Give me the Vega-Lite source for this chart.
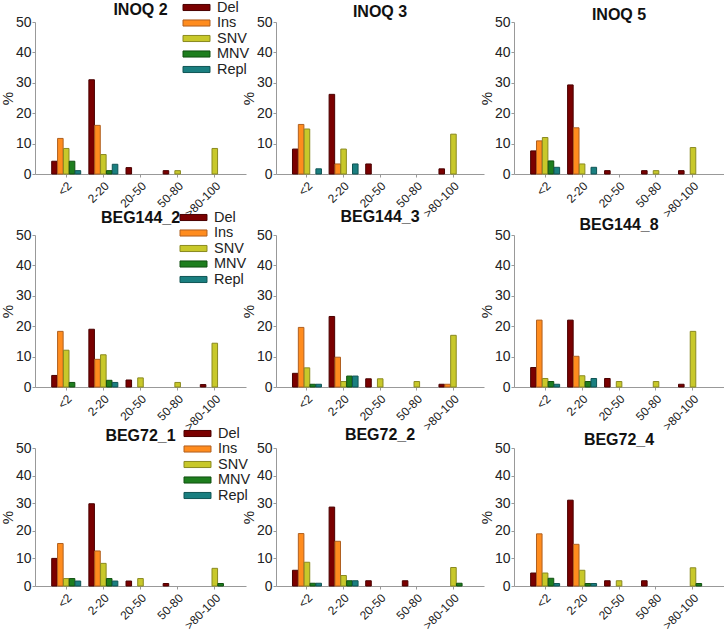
{
  "$schema": "https://vega.github.io/schema/vega-lite/v6.json",
  "padding": {"left": 0, "top": 0, "right": 2, "bottom": 0},
  "background": "white",
  "config": {
    "font": "Liberation Sans",
    "view": {"stroke": null},
    "title": {"fontSize": 16, "fontWeight": "bold", "color": "#111", "offset": 5, "anchor": "middle", "frame": "group"},
    "axis": {"domainColor": "#999", "tickColor": "#999", "labelColor": "#222", "grid": false, "titleFontWeight": "normal", "titleColor": "#222"},
    "legend": {"labelFontSize": 14.5, "labelColor": "#222", "symbolType": "M-2,-0.45H2V0.45H-2Z", "symbolSize": 182, "symbolStrokeWidth": 1, "rowPadding": 0.5, "labelOffset": 13, "orient": "none", "title": null, "padding": 0}
  },
  "bounds": "flush",
  "spacing": {"column": 30, "row": 61},
  "columns": 3,
  "resolve": {"legend": {"color": "independent", "stroke": "independent"}},
  "data": {"values": [
    {"panel": "INOQ 2", "bin": "<2", "type": "Del", "value": 4.2},
    {"panel": "INOQ 2", "bin": "<2", "type": "Ins", "value": 11.7},
    {"panel": "INOQ 2", "bin": "<2", "type": "SNV", "value": 8.4},
    {"panel": "INOQ 2", "bin": "<2", "type": "MNV", "value": 4.2},
    {"panel": "INOQ 2", "bin": "<2", "type": "Repl", "value": 1.1},
    {"panel": "INOQ 2", "bin": "2-20", "type": "Del", "value": 31.0},
    {"panel": "INOQ 2", "bin": "2-20", "type": "Ins", "value": 16.0},
    {"panel": "INOQ 2", "bin": "2-20", "type": "SNV", "value": 6.4},
    {"panel": "INOQ 2", "bin": "2-20", "type": "MNV", "value": 1.1},
    {"panel": "INOQ 2", "bin": "2-20", "type": "Repl", "value": 3.2},
    {"panel": "INOQ 2", "bin": "20-50", "type": "Del", "value": 2.1},
    {"panel": "INOQ 2", "bin": "50-80", "type": "Del", "value": 1.1},
    {"panel": "INOQ 2", "bin": "50-80", "type": "SNV", "value": 1.1},
    {"panel": "INOQ 2", "bin": ">80-100", "type": "SNV", "value": 8.4},

    {"panel": "INOQ 3", "bin": "<2", "type": "Del", "value": 8.2},
    {"panel": "INOQ 3", "bin": "<2", "type": "Ins", "value": 16.3},
    {"panel": "INOQ 3", "bin": "<2", "type": "SNV", "value": 14.8},
    {"panel": "INOQ 3", "bin": "<2", "type": "Repl", "value": 1.7},
    {"panel": "INOQ 3", "bin": "2-20", "type": "Del", "value": 26.2},
    {"panel": "INOQ 3", "bin": "2-20", "type": "Ins", "value": 3.3},
    {"panel": "INOQ 3", "bin": "2-20", "type": "SNV", "value": 8.2},
    {"panel": "INOQ 3", "bin": "2-20", "type": "Repl", "value": 3.3},
    {"panel": "INOQ 3", "bin": "20-50", "type": "Del", "value": 3.3},
    {"panel": "INOQ 3", "bin": ">80-100", "type": "Del", "value": 1.7},
    {"panel": "INOQ 3", "bin": ">80-100", "type": "SNV", "value": 13.1},

    {"panel": "INOQ 5", "bin": "<2", "type": "Del", "value": 7.6},
    {"panel": "INOQ 5", "bin": "<2", "type": "Ins", "value": 10.9},
    {"panel": "INOQ 5", "bin": "<2", "type": "SNV", "value": 12.0},
    {"panel": "INOQ 5", "bin": "<2", "type": "MNV", "value": 4.3},
    {"panel": "INOQ 5", "bin": "<2", "type": "Repl", "value": 2.2},
    {"panel": "INOQ 5", "bin": "2-20", "type": "Del", "value": 29.3},
    {"panel": "INOQ 5", "bin": "2-20", "type": "Ins", "value": 15.2},
    {"panel": "INOQ 5", "bin": "2-20", "type": "SNV", "value": 3.3},
    {"panel": "INOQ 5", "bin": "2-20", "type": "Repl", "value": 2.2},
    {"panel": "INOQ 5", "bin": "20-50", "type": "Del", "value": 1.1},
    {"panel": "INOQ 5", "bin": "50-80", "type": "Del", "value": 1.1},
    {"panel": "INOQ 5", "bin": "50-80", "type": "SNV", "value": 1.1},
    {"panel": "INOQ 5", "bin": ">80-100", "type": "Del", "value": 1.1},
    {"panel": "INOQ 5", "bin": ">80-100", "type": "SNV", "value": 8.7},

    {"panel": "BEG144_2", "bin": "<2", "type": "Del", "value": 3.8},
    {"panel": "BEG144_2", "bin": "<2", "type": "Ins", "value": 18.3},
    {"panel": "BEG144_2", "bin": "<2", "type": "SNV", "value": 12.1},
    {"panel": "BEG144_2", "bin": "<2", "type": "MNV", "value": 1.5},
    {"panel": "BEG144_2", "bin": "2-20", "type": "Del", "value": 19.0},
    {"panel": "BEG144_2", "bin": "2-20", "type": "Ins", "value": 9.1},
    {"panel": "BEG144_2", "bin": "2-20", "type": "SNV", "value": 10.6},
    {"panel": "BEG144_2", "bin": "2-20", "type": "MNV", "value": 2.2},
    {"panel": "BEG144_2", "bin": "2-20", "type": "Repl", "value": 1.5},
    {"panel": "BEG144_2", "bin": "20-50", "type": "Del", "value": 2.3},
    {"panel": "BEG144_2", "bin": "20-50", "type": "SNV", "value": 3.0},
    {"panel": "BEG144_2", "bin": "50-80", "type": "SNV", "value": 1.5},
    {"panel": "BEG144_2", "bin": ">80-100", "type": "Del", "value": 0.8},
    {"panel": "BEG144_2", "bin": ">80-100", "type": "SNV", "value": 14.4},

    {"panel": "BEG144_3", "bin": "<2", "type": "Del", "value": 4.5},
    {"panel": "BEG144_3", "bin": "<2", "type": "Ins", "value": 19.6},
    {"panel": "BEG144_3", "bin": "<2", "type": "SNV", "value": 6.3},
    {"panel": "BEG144_3", "bin": "<2", "type": "MNV", "value": 0.9},
    {"panel": "BEG144_3", "bin": "<2", "type": "Repl", "value": 0.9},
    {"panel": "BEG144_3", "bin": "2-20", "type": "Del", "value": 23.2},
    {"panel": "BEG144_3", "bin": "2-20", "type": "Ins", "value": 9.8},
    {"panel": "BEG144_3", "bin": "2-20", "type": "SNV", "value": 1.8},
    {"panel": "BEG144_3", "bin": "2-20", "type": "MNV", "value": 3.6},
    {"panel": "BEG144_3", "bin": "2-20", "type": "Repl", "value": 3.6},
    {"panel": "BEG144_3", "bin": "20-50", "type": "Del", "value": 2.7},
    {"panel": "BEG144_3", "bin": "20-50", "type": "SNV", "value": 2.7},
    {"panel": "BEG144_3", "bin": "50-80", "type": "SNV", "value": 1.8},
    {"panel": "BEG144_3", "bin": ">80-100", "type": "Del", "value": 0.9},
    {"panel": "BEG144_3", "bin": ">80-100", "type": "Ins", "value": 0.9},
    {"panel": "BEG144_3", "bin": ">80-100", "type": "SNV", "value": 17.0},

    {"panel": "BEG144_8", "bin": "<2", "type": "Del", "value": 6.4},
    {"panel": "BEG144_8", "bin": "<2", "type": "Ins", "value": 22.0},
    {"panel": "BEG144_8", "bin": "<2", "type": "SNV", "value": 2.8},
    {"panel": "BEG144_8", "bin": "<2", "type": "MNV", "value": 1.8},
    {"panel": "BEG144_8", "bin": "<2", "type": "Repl", "value": 0.9},
    {"panel": "BEG144_8", "bin": "2-20", "type": "Del", "value": 22.0},
    {"panel": "BEG144_8", "bin": "2-20", "type": "Ins", "value": 10.1},
    {"panel": "BEG144_8", "bin": "2-20", "type": "SNV", "value": 3.7},
    {"panel": "BEG144_8", "bin": "2-20", "type": "MNV", "value": 1.8},
    {"panel": "BEG144_8", "bin": "2-20", "type": "Repl", "value": 2.8},
    {"panel": "BEG144_8", "bin": "20-50", "type": "Del", "value": 2.8},
    {"panel": "BEG144_8", "bin": "20-50", "type": "SNV", "value": 1.8},
    {"panel": "BEG144_8", "bin": "50-80", "type": "SNV", "value": 1.8},
    {"panel": "BEG144_8", "bin": ">80-100", "type": "Del", "value": 0.9},
    {"panel": "BEG144_8", "bin": ">80-100", "type": "SNV", "value": 18.3},

    {"panel": "BEG72_1", "bin": "<2", "type": "Del", "value": 10.0},
    {"panel": "BEG72_1", "bin": "<2", "type": "Ins", "value": 15.4},
    {"panel": "BEG72_1", "bin": "<2", "type": "SNV", "value": 2.7},
    {"panel": "BEG72_1", "bin": "<2", "type": "MNV", "value": 2.7},
    {"panel": "BEG72_1", "bin": "<2", "type": "Repl", "value": 1.8},
    {"panel": "BEG72_1", "bin": "2-20", "type": "Del", "value": 29.8},
    {"panel": "BEG72_1", "bin": "2-20", "type": "Ins", "value": 12.7},
    {"panel": "BEG72_1", "bin": "2-20", "type": "SNV", "value": 8.2},
    {"panel": "BEG72_1", "bin": "2-20", "type": "MNV", "value": 2.7},
    {"panel": "BEG72_1", "bin": "2-20", "type": "Repl", "value": 1.8},
    {"panel": "BEG72_1", "bin": "20-50", "type": "Del", "value": 1.8},
    {"panel": "BEG72_1", "bin": "20-50", "type": "SNV", "value": 2.7},
    {"panel": "BEG72_1", "bin": "50-80", "type": "Del", "value": 0.9},
    {"panel": "BEG72_1", "bin": ">80-100", "type": "SNV", "value": 6.4},
    {"panel": "BEG72_1", "bin": ">80-100", "type": "MNV", "value": 0.9},

    {"panel": "BEG72_2", "bin": "<2", "type": "Del", "value": 5.7},
    {"panel": "BEG72_2", "bin": "<2", "type": "Ins", "value": 19.0},
    {"panel": "BEG72_2", "bin": "<2", "type": "SNV", "value": 8.6},
    {"panel": "BEG72_2", "bin": "<2", "type": "MNV", "value": 1.0},
    {"panel": "BEG72_2", "bin": "<2", "type": "Repl", "value": 1.0},
    {"panel": "BEG72_2", "bin": "2-20", "type": "Del", "value": 28.6},
    {"panel": "BEG72_2", "bin": "2-20", "type": "Ins", "value": 16.2},
    {"panel": "BEG72_2", "bin": "2-20", "type": "SNV", "value": 3.8},
    {"panel": "BEG72_2", "bin": "2-20", "type": "MNV", "value": 1.9},
    {"panel": "BEG72_2", "bin": "2-20", "type": "Repl", "value": 1.9},
    {"panel": "BEG72_2", "bin": "20-50", "type": "Del", "value": 1.9},
    {"panel": "BEG72_2", "bin": "50-80", "type": "Del", "value": 1.9},
    {"panel": "BEG72_2", "bin": ">80-100", "type": "SNV", "value": 6.7},
    {"panel": "BEG72_2", "bin": ">80-100", "type": "MNV", "value": 1.0},

    {"panel": "BEG72_4", "bin": "<2", "type": "Del", "value": 4.7},
    {"panel": "BEG72_4", "bin": "<2", "type": "Ins", "value": 18.9},
    {"panel": "BEG72_4", "bin": "<2", "type": "SNV", "value": 4.7},
    {"panel": "BEG72_4", "bin": "<2", "type": "MNV", "value": 2.8},
    {"panel": "BEG72_4", "bin": "<2", "type": "Repl", "value": 0.9},
    {"panel": "BEG72_4", "bin": "2-20", "type": "Del", "value": 31.1},
    {"panel": "BEG72_4", "bin": "2-20", "type": "Ins", "value": 15.1},
    {"panel": "BEG72_4", "bin": "2-20", "type": "SNV", "value": 5.7},
    {"panel": "BEG72_4", "bin": "2-20", "type": "MNV", "value": 0.9},
    {"panel": "BEG72_4", "bin": "2-20", "type": "Repl", "value": 0.9},
    {"panel": "BEG72_4", "bin": "20-50", "type": "Del", "value": 1.9},
    {"panel": "BEG72_4", "bin": "20-50", "type": "SNV", "value": 1.9},
    {"panel": "BEG72_4", "bin": "50-80", "type": "Del", "value": 1.9},
    {"panel": "BEG72_4", "bin": ">80-100", "type": "SNV", "value": 6.6},
    {"panel": "BEG72_4", "bin": ">80-100", "type": "MNV", "value": 0.9}
  ]},
  "concat": [
    {"title": {"text": "INOQ 2", "offset": -18}, "width": 211, "height": 152, "transform": [{"filter": "datum.panel == 'INOQ 2'"}], "mark": {"type": "bar", "strokeWidth": 1},
     "encoding": {
       "x": {"field": "bin", "type": "nominal", "sort": ["<2", "2-20", "20-50", "50-80", ">80-100"], "scale": {"domain": ["<2", "2-20", "20-50", "50-80", ">80-100"], "paddingInner": 0.22, "paddingOuter": 0.45}, "axis": {"title": null, "labelAngle": -45, "labelFontSize": 12, "tickSize": 3, "labelPadding": 3}},
       "xOffset": {"field": "type", "type": "nominal", "scale": {"domain": ["Del", "Ins", "SNV", "MNV", "Repl"], "paddingInner": 0.05}},
       "y": {"field": "value", "type": "quantitative", "scale": {"domain": [0, 50]}, "axis": {"title": "%", "titleFontSize": 15, "titlePadding": 0, "values": [0, 10, 20, 30, 40, 50], "labelFontSize": 14, "tickSize": 3, "labelPadding": 1}},
       "color": {"field": "type", "type": "nominal", "scale": {"domain": ["Del", "Ins", "SNV", "MNV", "Repl"], "range": ["#7a0000", "#ff8c1e", "#c8c82a", "#1e7e1e", "#1a7f80"]}, "legend": {"legendX": 154, "legendY": -22}},
       "stroke": {"field": "type", "type": "nominal", "scale": {"domain": ["Del", "Ins", "SNV", "MNV", "Repl"], "range": ["#4a0000", "#b06020", "#8a8a20", "#105010", "#105555"]}, "legend": {"legendX": 154, "legendY": -22}}
     }},
    {"title": {"text": "INOQ 3", "offset": -5}, "width": 208, "height": 152, "transform": [{"filter": "datum.panel == 'INOQ 3'"}], "mark": {"type": "bar", "strokeWidth": 1},
     "encoding": {
       "x": {"field": "bin", "type": "nominal", "sort": ["<2", "2-20", "20-50", "50-80", ">80-100"], "scale": {"domain": ["<2", "2-20", "20-50", "50-80", ">80-100"], "paddingInner": 0.22, "paddingOuter": 0.45}, "axis": {"title": null, "labelAngle": -45, "labelFontSize": 12, "tickSize": 3, "labelPadding": 3}},
       "xOffset": {"field": "type", "type": "nominal", "scale": {"domain": ["Del", "Ins", "SNV", "MNV", "Repl"], "paddingInner": 0.05}},
       "y": {"field": "value", "type": "quantitative", "scale": {"domain": [0, 50]}, "axis": {"title": "%", "titleFontSize": 15, "titlePadding": 0, "values": [0, 10, 20, 30, 40, 50], "labelFontSize": 14, "tickSize": 3, "labelPadding": 1}},
       "color": {"field": "type", "type": "nominal", "legend": null},
       "stroke": {"field": "type", "type": "nominal", "legend": null}
     }},
    {"title": {"text": "INOQ 5", "offset": -8}, "width": 210, "height": 152, "transform": [{"filter": "datum.panel == 'INOQ 5'"}], "mark": {"type": "bar", "strokeWidth": 1},
     "encoding": {
       "x": {"field": "bin", "type": "nominal", "sort": ["<2", "2-20", "20-50", "50-80", ">80-100"], "scale": {"domain": ["<2", "2-20", "20-50", "50-80", ">80-100"], "paddingInner": 0.22, "paddingOuter": 0.45}, "axis": {"title": null, "labelAngle": -45, "labelFontSize": 12, "tickSize": 3, "labelPadding": 3}},
       "xOffset": {"field": "type", "type": "nominal", "scale": {"domain": ["Del", "Ins", "SNV", "MNV", "Repl"], "paddingInner": 0.05}},
       "y": {"field": "value", "type": "quantitative", "scale": {"domain": [0, 50]}, "axis": {"title": "%", "titleFontSize": 15, "titlePadding": 0, "values": [0, 10, 20, 30, 40, 50], "labelFontSize": 14, "tickSize": 3, "labelPadding": 1}},
       "color": {"field": "type", "type": "nominal", "legend": null},
       "stroke": {"field": "type", "type": "nominal", "legend": null}
     }},
    {"title": {"text": "BEG144_2", "offset": -16}, "width": 211, "height": 152, "transform": [{"filter": "datum.panel == 'BEG144_2'"}], "mark": {"type": "bar", "strokeWidth": 1},
     "encoding": {
       "x": {"field": "bin", "type": "nominal", "sort": ["<2", "2-20", "20-50", "50-80", ">80-100"], "scale": {"domain": ["<2", "2-20", "20-50", "50-80", ">80-100"], "paddingInner": 0.22, "paddingOuter": 0.45}, "axis": {"title": null, "labelAngle": -45, "labelFontSize": 12, "tickSize": 3, "labelPadding": 3}},
       "xOffset": {"field": "type", "type": "nominal", "scale": {"domain": ["Del", "Ins", "SNV", "MNV", "Repl"], "paddingInner": 0.05}},
       "y": {"field": "value", "type": "quantitative", "scale": {"domain": [0, 50]}, "axis": {"title": "%", "titleFontSize": 15, "titlePadding": 0, "values": [0, 10, 20, 30, 40, 50], "labelFontSize": 14, "tickSize": 3, "labelPadding": 1}},
       "color": {"field": "type", "type": "nominal", "legend": {"legendX": 151, "legendY": -25}},
       "stroke": {"field": "type", "type": "nominal", "legend": {"legendX": 151, "legendY": -25}}
     }},
    {"title": {"text": "BEG144_3", "offset": 3}, "width": 208, "height": 152, "transform": [{"filter": "datum.panel == 'BEG144_3'"}], "mark": {"type": "bar", "strokeWidth": 1},
     "encoding": {
       "x": {"field": "bin", "type": "nominal", "sort": ["<2", "2-20", "20-50", "50-80", ">80-100"], "scale": {"domain": ["<2", "2-20", "20-50", "50-80", ">80-100"], "paddingInner": 0.22, "paddingOuter": 0.45}, "axis": {"title": null, "labelAngle": -45, "labelFontSize": 12, "tickSize": 3, "labelPadding": 3}},
       "xOffset": {"field": "type", "type": "nominal", "scale": {"domain": ["Del", "Ins", "SNV", "MNV", "Repl"], "paddingInner": 0.05}},
       "y": {"field": "value", "type": "quantitative", "scale": {"domain": [0, 50]}, "axis": {"title": "%", "titleFontSize": 15, "titlePadding": 0, "values": [0, 10, 20, 30, 40, 50], "labelFontSize": 14, "tickSize": 3, "labelPadding": 1}},
       "color": {"field": "type", "type": "nominal", "legend": null},
       "stroke": {"field": "type", "type": "nominal", "legend": null}
     }},
    {"title": {"text": "BEG144_8", "offset": -5}, "width": 210, "height": 152, "transform": [{"filter": "datum.panel == 'BEG144_8'"}], "mark": {"type": "bar", "strokeWidth": 1},
     "encoding": {
       "x": {"field": "bin", "type": "nominal", "sort": ["<2", "2-20", "20-50", "50-80", ">80-100"], "scale": {"domain": ["<2", "2-20", "20-50", "50-80", ">80-100"], "paddingInner": 0.22, "paddingOuter": 0.45}, "axis": {"title": null, "labelAngle": -45, "labelFontSize": 12, "tickSize": 3, "labelPadding": 3}},
       "xOffset": {"field": "type", "type": "nominal", "scale": {"domain": ["Del", "Ins", "SNV", "MNV", "Repl"], "paddingInner": 0.05}},
       "y": {"field": "value", "type": "quantitative", "scale": {"domain": [0, 50]}, "axis": {"title": "%", "titleFontSize": 15, "titlePadding": 0, "values": [0, 10, 20, 30, 40, 50], "labelFontSize": 14, "tickSize": 3, "labelPadding": 1}},
       "color": {"field": "type", "type": "nominal", "legend": null},
       "stroke": {"field": "type", "type": "nominal", "legend": null}
     }},
    {"title": {"text": "BEG72_1", "offset": -18}, "width": 211, "height": 138, "transform": [{"filter": "datum.panel == 'BEG72_1'"}], "mark": {"type": "bar", "strokeWidth": 1},
     "encoding": {
       "x": {"field": "bin", "type": "nominal", "sort": ["<2", "2-20", "20-50", "50-80", ">80-100"], "scale": {"domain": ["<2", "2-20", "20-50", "50-80", ">80-100"], "paddingInner": 0.22, "paddingOuter": 0.45}, "axis": {"title": null, "labelAngle": -45, "labelFontSize": 12, "tickSize": 3, "labelPadding": 3}},
       "xOffset": {"field": "type", "type": "nominal", "scale": {"domain": ["Del", "Ins", "SNV", "MNV", "Repl"], "paddingInner": 0.05}},
       "y": {"field": "value", "type": "quantitative", "scale": {"domain": [0, 50]}, "axis": {"title": "%", "titleFontSize": 15, "titlePadding": 0, "values": [0, 10, 20, 30, 40, 50], "labelFontSize": 14, "tickSize": 3, "labelPadding": 1}},
       "color": {"field": "type", "type": "nominal", "legend": {"legendX": 155, "legendY": -22}},
       "stroke": {"field": "type", "type": "nominal", "legend": {"legendX": 155, "legendY": -22}}
     }},
    {"title": {"text": "BEG72_2", "offset": -2}, "width": 208, "height": 138, "transform": [{"filter": "datum.panel == 'BEG72_2'"}], "mark": {"type": "bar", "strokeWidth": 1},
     "encoding": {
       "x": {"field": "bin", "type": "nominal", "sort": ["<2", "2-20", "20-50", "50-80", ">80-100"], "scale": {"domain": ["<2", "2-20", "20-50", "50-80", ">80-100"], "paddingInner": 0.22, "paddingOuter": 0.45}, "axis": {"title": null, "labelAngle": -45, "labelFontSize": 12, "tickSize": 3, "labelPadding": 3}},
       "xOffset": {"field": "type", "type": "nominal", "scale": {"domain": ["Del", "Ins", "SNV", "MNV", "Repl"], "paddingInner": 0.05}},
       "y": {"field": "value", "type": "quantitative", "scale": {"domain": [0, 50]}, "axis": {"title": "%", "titleFontSize": 15, "titlePadding": 0, "values": [0, 10, 20, 30, 40, 50], "labelFontSize": 14, "tickSize": 3, "labelPadding": 1}},
       "color": {"field": "type", "type": "nominal", "legend": null},
       "stroke": {"field": "type", "type": "nominal", "legend": null}
     }},
    {"title": {"text": "BEG72_4", "offset": -7}, "width": 210, "height": 138, "transform": [{"filter": "datum.panel == 'BEG72_4'"}], "mark": {"type": "bar", "strokeWidth": 1},
     "encoding": {
       "x": {"field": "bin", "type": "nominal", "sort": ["<2", "2-20", "20-50", "50-80", ">80-100"], "scale": {"domain": ["<2", "2-20", "20-50", "50-80", ">80-100"], "paddingInner": 0.22, "paddingOuter": 0.45}, "axis": {"title": null, "labelAngle": -45, "labelFontSize": 12, "tickSize": 3, "labelPadding": 3}},
       "xOffset": {"field": "type", "type": "nominal", "scale": {"domain": ["Del", "Ins", "SNV", "MNV", "Repl"], "paddingInner": 0.05}},
       "y": {"field": "value", "type": "quantitative", "scale": {"domain": [0, 50]}, "axis": {"title": "%", "titleFontSize": 15, "titlePadding": 0, "values": [0, 10, 20, 30, 40, 50], "labelFontSize": 14, "tickSize": 3, "labelPadding": 1}},
       "color": {"field": "type", "type": "nominal", "legend": null},
       "stroke": {"field": "type", "type": "nominal", "legend": null}
     }}
  ]
}
